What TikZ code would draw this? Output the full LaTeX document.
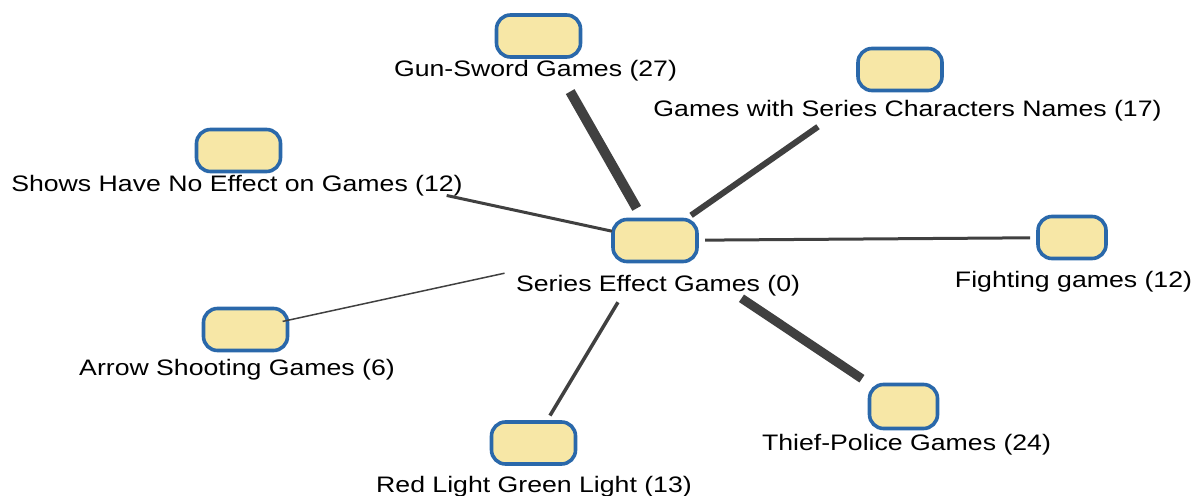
\documentclass[tikz,border=0pt]{standalone}
\usepackage{fontspec}
\setmainfont{Liberation Sans}[FakeStretch=1.19]
\definecolor{boxfill}{RGB}{247,231,166}
\definecolor{boxline}{RGB}{42,104,170}
\definecolor{linkgray}{RGB}{64,64,64}

\begin{document}
\begin{tikzpicture}[x=0.5pt,y=-0.5pt]
        \useasboundingbox (0,0) rectangle (1202,496);
        \begin{scope}
            \tikzstyle{every node}=[fill=boxfill, draw=boxline, rounded corners=7pt, line width=1.8pt, minimum width=42pt, minimum height=21pt, inner sep=0pt]
            \node (0) at (655,240.5) {};
            \node (1) at (538.5,36) {};
            \node (2) at (900,69.5) {};
            \node (3) at (238.5,150.5) {};
            \node[minimum width=34pt] (4) at (1072,237.5) {};
            \node (5) at (245.5,329.5) {};
            \node (6) at (533.5,443) {};
            \node[minimum width=34pt, minimum height=22pt] (7) at (903.5,406.5) {};
        \end{scope}
        \begin{scope}
            \tikzstyle{every node}=[font=\fontsize{11.2}{13}\selectfont, text=black, anchor=base, inner sep=0pt]
            \node (t0) at (658,292) {Series Effect Games (0)};
            \node (t1) at (535.5,77) {Gun-Sword Games (27)};
            \node (t2) at (907.5,117) {Games with Series Characters Names (17)};
            \node (t3) at (237,192) {Shows Have No Effect on Games (12)};
            \node (t4) at (1073.5,287) {Fighting games (12)};
            \node (t5) at (237,375) {Arrow Shooting Games (6)};
            \node (t6) at (534,492) {Red Light Green Light (13)};
            \node (t7) at (906.5,450) {Thief-Police Games (24)};
        \end{scope}
        \begin{scope}
            \tikzstyle{every edge}=[draw=linkgray]
            \path
            (0.center) edge[line width=5pt, shorten <=18.5pt, shorten >=32pt] (1.center)
            (0.center) edge[line width=3pt, shorten <=22pt, shorten >=50pt] (2.center)
            (0.center) edge[line width=1.5pt, shorten <=22pt, shorten >=106.5pt] (3.center)
            (0.center) edge[line width=1.5pt, shorten <=25pt, shorten >=21pt] (4.center)
            (0.center) edge[line width=0.75pt, shorten <=77pt, shorten >=19pt] (5.center)
            (0.center) edge[line width=1.75pt, shorten <=36pt, shorten >=16pt] (6.center)
            (0.center) edge[line width=4.5pt, shorten <=52pt, shorten >=25pt] (7.center);
        \end{scope}
    \end{tikzpicture}
\end{document}
